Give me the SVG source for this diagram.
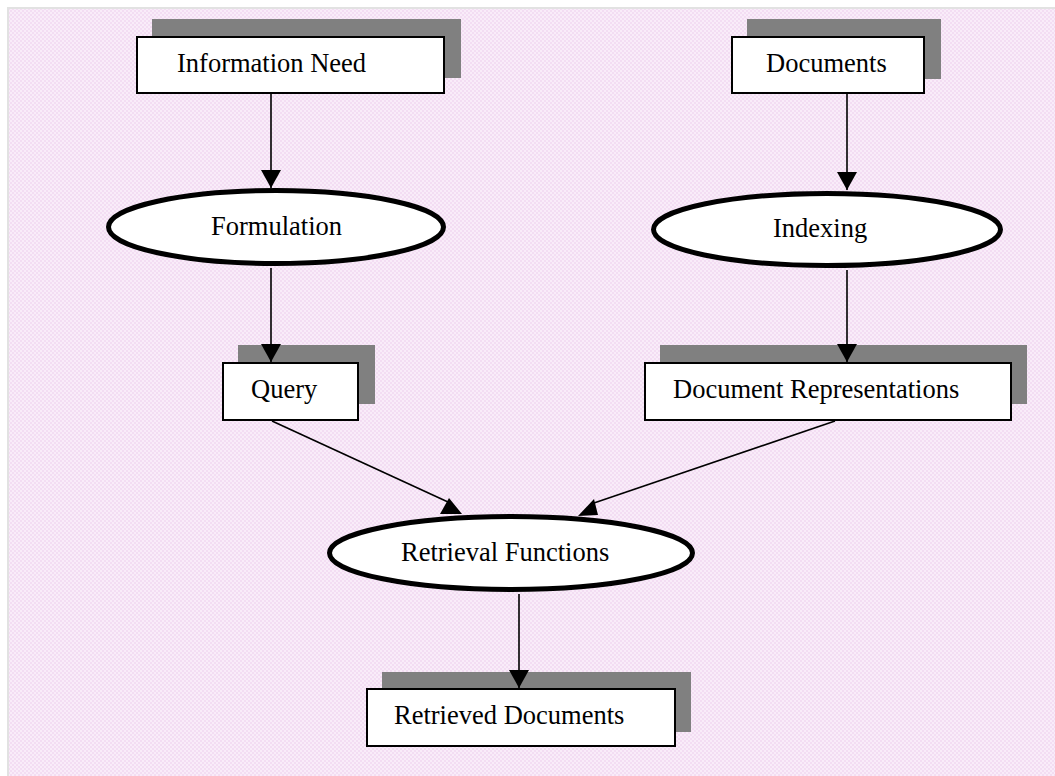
<svg xmlns="http://www.w3.org/2000/svg" width="1055" height="776" viewBox="0 0 1055 776">
<defs>
<pattern id="chk" width="4" height="4" patternUnits="userSpaceOnUse">
<rect width="4" height="4" fill="#f9ecf9"/>
<rect width="2" height="2" fill="#f3ddf3"/>
<rect x="2" y="2" width="2" height="2" fill="#f3ddf3"/>
</pattern>
<marker id="ah" viewBox="0 0 18 20" refX="18" refY="10" markerWidth="18" markerHeight="20" markerUnits="userSpaceOnUse" orient="auto">
<path d="M0,0 L18,10 L0,20 Z" fill="#000"/>
</marker>
<style>
.sh{fill:#808080}
.box{fill:#fff;stroke:#000;stroke-width:2}
.ell{fill:#fff;stroke:#000;stroke-width:5}
.t{font-family:"Liberation Serif","Times New Roman",serif;font-size:26.5px;fill:#000}
.c{stroke:#000;stroke-width:1.6;fill:none}
</style>
</defs>
<rect width="1055" height="776" fill="#fff"/>
<rect x="8" y="8" width="1047" height="768" fill="url(#chk)"/>
<path d="M8,776 V8 H1055" fill="none" stroke="#e2e2e2" stroke-width="2"/>

<g id="information-need">
<rect class="sh" x="152" y="19" width="309" height="59"/>
<rect class="box" x="137" y="37" width="307" height="56"/>
<text class="t" x="177" y="72">Information Need</text>
</g>
<g id="documents">
<rect class="sh" x="747" y="19" width="194" height="60"/>
<rect class="box" x="732" y="37" width="192" height="56"/>
<text class="t" x="766" y="72">Documents</text>
</g>
<g id="formulation">
<ellipse class="ell" cx="276" cy="227" rx="167.5" ry="36.5"/>
<text class="t" x="211" y="235">Formulation</text>
</g>
<g id="indexing">
<ellipse class="ell" cx="827" cy="229.5" rx="173.5" ry="36"/>
<text class="t" x="773" y="237">Indexing</text>
</g>
<g id="query">
<rect class="sh" x="238" y="345" width="137" height="59"/>
<rect class="box" x="223" y="363" width="135" height="57"/>
<text class="t" x="251" y="398">Query</text>
</g>
<g id="document-representations">
<rect class="sh" x="660" y="345" width="367" height="59"/>
<rect class="box" x="645" y="363" width="366" height="57"/>
<text class="t" x="673" y="398">Document Representations</text>
</g>
<g id="retrieval-functions">
<ellipse class="ell" cx="511" cy="553" rx="181.5" ry="36.5"/>
<text class="t" x="401" y="561">Retrieval Functions</text>
</g>
<g id="retrieved-documents">
<rect class="sh" x="382" y="672" width="309" height="60"/>
<rect class="box" x="367" y="689" width="308" height="57"/>
<text class="t" x="394" y="724">Retrieved Documents</text>
</g>

<g id="connectors">
<line class="c" x1="271" y1="94" x2="271" y2="188" marker-end="url(#ah)"/>
<line class="c" x1="847" y1="94" x2="847" y2="190" marker-end="url(#ah)"/>
<line class="c" x1="271" y1="268" x2="271" y2="362" marker-end="url(#ah)"/>
<line class="c" x1="847" y1="270" x2="847" y2="362" marker-end="url(#ah)"/>
<line class="c" x1="272" y1="421" x2="448" y2="502"/>
<polygon points="449,498 440,514 462,514" fill="#000"/>
<line class="c" x1="835" y1="421" x2="594" y2="503"/>
<polygon points="594,499 578,516 598,515" fill="#000"/>
<line class="c" x1="519" y1="594" x2="519" y2="688" marker-end="url(#ah)"/>
</g>
</svg>
